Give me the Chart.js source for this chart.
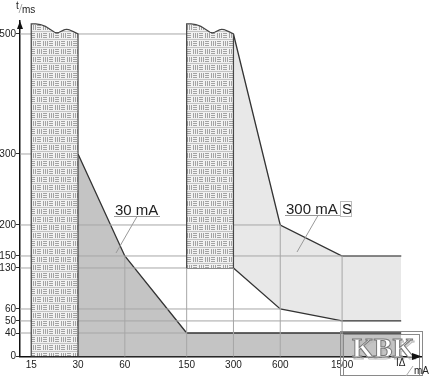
<!DOCTYPE html>
<html>
<head>
<meta charset="utf-8">
<script src="https://cdn.jsdelivr.net/npm/chart.js@4.4.0/dist/chart.umd.min.js"></script>
<style>
  html, body { margin: 0; padding: 0; background: #fff; }
  #wrap { width: 430px; height: 376px; }
</style>
</head>
<body>
<div id="wrap"><canvas id="chart" width="430" height="376"></canvas></div>
<script>
const xTicks = [15, 30, 60, 150, 300, 600, 1500];
const yTicks = [0, 40, 50, 60, 130, 150, 200, 300, 500];

// 30 mA curve (I in mA, t in ms)
const curve30X = [30, 60, 150, 3600];
const curve30Y = [300, 150, 40, 40];

// 300 mA S band
const band300X = [300, 600, 1500, 3600];
const band300Upper = [500, 200, 150, 150];
const band300Lower = [130, 60, 50, 50];

// hatched blocks, wavy top edge
const block30X = [15, 16, 17.2, 18.5, 19.8, 21.2, 22, 22.7, 24.4, 25.2, 26.1, 28, 30];
const block300X = [150, 160, 172, 185, 198, 212, 220, 227, 244, 252, 261, 280, 300];
const blockTopY = [517, 517, 516, 513, 508, 503, 502, 503, 507, 508, 507.5, 504, 500];
const block30Base = 0;
const block300Base = 130;

// guide lines: [t, I where it stops] and [I, t where it stops]
const guideH = [[500, 150], [300, 30], [200, 600], [150, 3600], [130, 300], [60, 600], [50, 1500], [40, 150]];
const guideV = [[60, 150], [150, 130], [300, 130], [600, 200], [1500, 150]];

const xMin = 12.7, xMax = 4900;

// the t axis of the drawing is not uniform: where each value sits (0 = bottom, 1 = top)
const yAxisStops = [0, 40, 50, 60, 130, 150, 200, 300, 500, 522];
const yAxisFrac = [0, 0.070, 0.106, 0.1416, 0.2638, 0.2996, 0.392, 0.6036, 0.9613, 1];

function interp(v, xs, ys) {
  let i = 1;
  while (i < xs.length - 1 && v > xs[i]) i++;
  const x0 = xs[i - 1], x1 = xs[i];
  return ys[i - 1] + (v - x0) * (ys[i] - ys[i - 1]) / (x1 - x0);
}

class SchematicScale extends Chart.LinearScale {
  getPixelForValue(value) {
    if (value === null || value === undefined || isNaN(value)) return NaN;
    const f = interp(value, yAxisStops, yAxisFrac);
    return this.bottom - f * (this.bottom - this.top);
  }
  getValueForPixel(pixel) {
    const f = (this.bottom - pixel) / (this.bottom - this.top);
    return interp(f, yAxisFrac, yAxisStops);
  }
}
SchematicScale.id = 'schematic';
SchematicScale.defaults = Chart.LinearScale.defaults;
Chart.register(SchematicScale);

function zip(xs, ys) { return xs.map((x, i) => ({x: x, y: ys[i]})); }

function blockPoints(xs, base) {
  const pts = [{x: xs[0], y: base}];
  xs.forEach((x, i) => pts.push({x: x, y: blockTopY[i]}));
  pts.push({x: xs[xs.length - 1], y: base});
  return pts;
}

const guidePts = [];
guideH.forEach(([t, i]) => guidePts.push({x: xMin, y: t}, {x: i, y: t}, {x: i, y: null}));
guideV.forEach(([i, t]) => guidePts.push({x: i, y: 0}, {x: i, y: t}, {x: i, y: null}));

function makeHatch() {
  const c = document.createElement('canvas');
  c.width = 12; c.height = 16;
  const g = c.getContext('2d');
  g.fillStyle = '#f1f1f1';
  g.fillRect(0, 0, 12, 16);
  g.fillStyle = '#a3a3a3';
  // row 1: ||| then ≡
  g.fillRect(1, 1, 1, 5); g.fillRect(3, 1, 1, 5); g.fillRect(5, 1, 1, 5);
  g.fillRect(7, 1, 4, 1); g.fillRect(7, 3, 4, 1); g.fillRect(7, 5, 4, 1);
  // row 2: ≡ then |||
  g.fillRect(1, 9, 4, 1); g.fillRect(1, 11, 4, 1); g.fillRect(1, 13, 4, 1);
  g.fillRect(7, 9, 1, 5); g.fillRect(9, 9, 1, 5); g.fillRect(11, 9, 1, 5);
  g.fillStyle = '#c4c4c4';
  g.fillRect(0, 7, 12, 1);
  g.fillRect(0, 15, 12, 1);
  return g.createPattern(c, 'repeat');
}
const hatch = makeHatch();

const last = block300X.length - 1;

const data = {
  datasets: [
    {
      label: 'block 30',
      data: blockPoints(block30X, block30Base),
      fill: 'origin',
      backgroundColor: hatch,
      borderColor: '#444',
      borderWidth: 1.2,
      order: 0
    },
    {
      label: 'block 300',
      data: blockPoints(block300X, block300Base),
      fill: {value: block300Base},
      backgroundColor: hatch,
      borderColor: '#444',
      borderWidth: 1.2,
      order: 0
    },
    {
      label: 'block 300 base',
      data: [{x: block300X[0], y: block300Base}, {x: block300X[last], y: block300Base}],
      fill: false,
      borderColor: '#444',
      borderWidth: 1.2,
      order: 0
    },
    {
      label: 'guides',
      data: guidePts,
      fill: false,
      borderColor: '#a6a6a6',
      borderWidth: 1,
      order: 1
    },
    {
      label: '30 mA',
      data: zip(curve30X, curve30Y),
      fill: 'origin',
      backgroundColor: '#c4c4c4',
      borderColor: '#333',
      borderWidth: 1.3,
      order: 2
    },
    {
      label: '300 mA S lower',
      data: zip(band300X, band300Lower),
      fill: false,
      borderColor: '#333',
      borderWidth: 1.3,
      order: 2
    },
    {
      label: '300 mA S upper',
      data: zip(band300X, band300Upper),
      fill: '-1',
      backgroundColor: '#e8e8e8',
      borderColor: '#333',
      borderWidth: 1.3,
      order: 2
    }
  ]
};

// labels, leaders, arrows, logo
const decorations = {
  id: 'decorations',
  afterDraw(chart) {
    const ctx = chart.ctx;
    const a = chart.chartArea;
    ctx.save();

    // leader lines
    ctx.strokeStyle = '#999';
    ctx.lineWidth = 1;
    ctx.beginPath();
    ctx.moveTo(114, 216.5); ctx.lineTo(160, 216.5);
    ctx.moveTo(137, 216.5); ctx.lineTo(116, 253);
    ctx.moveTo(285, 215.5); ctx.lineTo(340, 215.5);
    ctx.moveTo(318, 215.5); ctx.lineTo(297, 252);
    ctx.stroke();

    ctx.fillStyle = '#222';
    ctx.font = '15px "Liberation Sans", Arial, sans-serif';
    ctx.textBaseline = 'alphabetic';
    ctx.textAlign = 'left';
    ctx.fillText('30 mA', 115, 215);
    ctx.fillText('300 mA', 286, 214);
    ctx.fillText('S', 342, 214);
    ctx.strokeStyle = '#bbb';
    ctx.strokeRect(340.5, 201.5, 11, 15);

    // logo
    ctx.strokeStyle = '#8a8a8a';
    ctx.lineWidth = 1;
    ctx.strokeRect(340.5, 331.5, 82, 44);
    ctx.strokeRect(343.5, 334.5, 76, 44);
    ctx.font = 'bold 28px "Liberation Serif", "Times New Roman", serif';
    ctx.lineWidth = 1;
    ctx.strokeStyle = '#bbb';
    ctx.strokeText('KBK', 353.5, 358.5);
    ctx.fillStyle = '#fff';
    ctx.fillText('KBK', 352, 357);
    ctx.strokeStyle = '#777';
    ctx.strokeText('KBK', 352, 357);

    // axis arrows
    ctx.fillStyle = '#111';
    ctx.beginPath();
    ctx.moveTo(a.left, a.top);
    ctx.lineTo(a.left - 3, a.top + 8);
    ctx.lineTo(a.left + 3, a.top + 8);
    ctx.closePath();
    ctx.fill();
    ctx.beginPath();
    ctx.moveTo(a.right, a.bottom);
    ctx.lineTo(a.right - 10, a.bottom - 3.5);
    ctx.lineTo(a.right - 10, a.bottom + 3.5);
    ctx.closePath();
    ctx.fill();

    // axis titles
    ctx.fillStyle = '#222';
    ctx.font = '10px "Liberation Sans", Arial, sans-serif';
    ctx.fillText('t', 16, 9);
    ctx.fillText('ms', 22, 13);
    ctx.fillText('I\u0394', 396, 366);
    ctx.fillText('mA', 414, 374);
    ctx.strokeStyle = '#aaa';
    ctx.beginPath();
    ctx.moveTo(19, 13); ctx.lineTo(22, 4);
    ctx.moveTo(406, 376); ctx.lineTo(413, 366);
    ctx.stroke();

    ctx.restore();
  }
};

const config = {
  type: 'line',
  data: data,
  options: {
    responsive: false,
    animation: false,
    devicePixelRatio: 1,
    layout: { padding: { top: 21, right: 8, left: 0, bottom: 0 } },
    plugins: {
      legend: { display: false },
      tooltip: { enabled: false }
    },
    elements: {
      point: { radius: 0, hoverRadius: 0 },
      line: { tension: 0 }
    },
    datasets: { line: { clip: false } },
    scales: {
      x: {
        type: 'logarithmic',
        min: xMin,
        max: xMax,
        z: 1,
        afterBuildTicks: s => { s.ticks = xTicks.map(v => ({value: v})); },
        afterFit: s => { s.height = 19.5; },
        grid: { display: false, drawTicks: false },
        border: { display: true, color: '#111', width: 1.5 },
        ticks: {
          autoSkip: false, maxRotation: 0, padding: 3, color: '#222',
          font: { family: '"Liberation Sans", Arial, sans-serif', size: 10 },
          callback: v => String(v)
        }
      },
      y: {
        type: 'schematic',
        min: 0,
        max: 522,
        z: 1,
        afterBuildTicks: s => { s.ticks = yTicks.map(v => ({value: v})); },
        afterFit: s => { s.width = 20; },
        grid: { drawOnChartArea: false, drawTicks: true, tickLength: 4, color: '#333' },
        border: { display: true, color: '#111', width: 1.5 },
        ticks: {
          autoSkip: false, padding: 0, color: '#222',
          font: { family: '"Liberation Sans", Arial, sans-serif', size: 10 },
          callback: v => String(v)
        }
      }
    }
  },
  plugins: [decorations]
};

const myChart = new Chart(document.getElementById('chart'), config);
</script>
</body>
</html>
